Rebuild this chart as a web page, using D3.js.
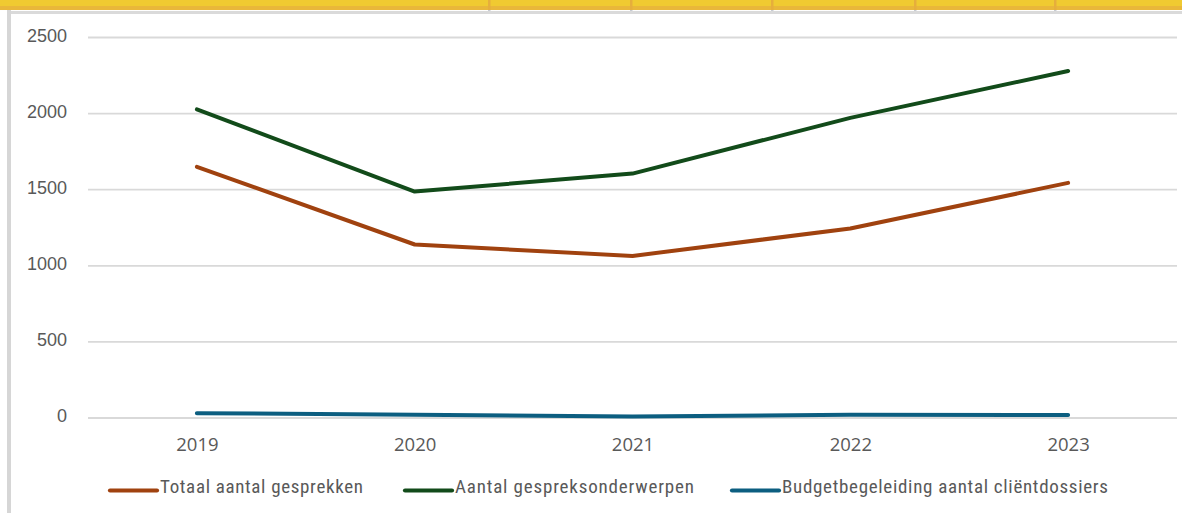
<!DOCTYPE html>
<meta charset="utf-8">
<style>
body{margin:0;background:#fff;}
svg{display:block;font-family:"Liberation Sans",Arial,sans-serif;}
</style>
<body>
<svg id="chart"></svg>
<script src="https://cdnjs.cloudflare.com/ajax/libs/d3/7.8.5/d3.min.js"></script>
<script>

var years = ["2019","2020","2021","2022","2023"];
var totaalGesprekken = [1650,1140,1065,1245,1545];
var gespreksonderwerpen = [2028,1488,1606,1972,2280];
var clientdossiers = [32,22,10,22,20];
var seriesNames = ["Totaal aantal gesprekken","Aantal gespreksonderwerpen","Budgetbegeleiding aantal cliëntdossiers"];
var yTicks = [0,500,1000,1500,2000,2500];
var headerCols = [489,631,772,915,1055];

var W = 1182, H = 513;
var colors = ["#A0420F","#124B1A","#0C5E80"];
var series = [totaalGesprekken,gespreksonderwerpen,clientdossiers];

var svg = d3.select('#chart').attr("width",W).attr("height",H);

// spreadsheet frame round the chart
svg.append("rect").attr("x",0).attr("y",0).attr("width",W).attr("height",7).attr("fill","#F0CA31");
svg.append("rect").attr("x",0).attr("y",6).attr("width",W).attr("height",4).attr("fill","#E9B73A");
svg.selectAll(".hcol").data(headerCols).enter().append("rect")
	.attr("x",d=>d-1).attr("y",0).attr("width",2.5).attr("height",10).attr("fill","#E6AE3C");
svg.selectAll(".hmark").data(headerCols).enter().append("rect")
	.attr("x",d=>d-1).attr("y",10).attr("width",2.5).attr("height",2).attr("fill","#C8CCD4");
svg.append("rect").attr("x",7).attr("y",11).attr("width",W-7).attr("height",3).attr("fill","#DADADA");
svg.append("rect").attr("x",7).attr("y",10).attr("width",4).attr("height",H-10).attr("fill","#D6D6D6");

var x = d3.scalePoint().domain(years).range([88,1177]).padding(0.5);
var y = d3.scaleLinear().domain([0,2500]).range([418,37.5]);

// gridlines
svg.append("g").selectAll("line").data(yTicks).enter().append("line")
	.attr("x1",88).attr("x2",1177)
	.attr("y1",d=>y(d)).attr("y2",d=>y(d))
	.attr("stroke","#D9D9D9").attr("stroke-width",1.8);

var yAxis = svg.append("g").attr("transform","translate(67,0)")
	.call(d3.axisLeft(y).tickValues(yTicks).tickSize(0).tickPadding(0).tickFormat(d3.format("d")));
yAxis.select(".domain").remove();
yAxis.selectAll("text").attr("fill","#595959").style("font-size","18px").attr("dy","3.5px");

var xAxis = svg.append("g").attr("transform","translate(0,450.7)")
	.call(d3.axisBottom(x).tickSize(0).tickPadding(0));
xAxis.select(".domain").remove();
xAxis.selectAll("text").attr("fill","#595959").style("font-size","18.5px").attr("dy","0")
	.style("font-family","'Open Sans','Liberation Sans',sans-serif");

var line = d3.line().x((d,i)=>x(years[i])).y(d=>y(d));

svg.append("g").selectAll("path").data(series).enter().append("path")
	.attr("d",line)
	.attr("fill","none")
	.attr("stroke",(d,i)=>colors[i])
	.attr("stroke-width",4)
	.attr("stroke-linecap","round")
	.attr("stroke-linejoin","round");

// legend
var legendX = [110,405,732];
var legendW = [203,239,326];
var lg = svg.append("g").selectAll("g").data(seriesNames).enter().append("g")
	.attr("transform",(d,i)=>"translate("+legendX[i]+",490.5)");
lg.append("line").attr("x1",0).attr("x2",47).attr("y1",0).attr("y2",0)
	.attr("stroke",(d,i)=>colors[i]).attr("stroke-width",4.2).attr("stroke-linecap","round");
lg.append("text").attr("x",(d,i)=>i==2?50:50).attr("y",2.5)
	.attr("fill","#595959").style("font-size","19px")
	.style("font-family","'Liberation Sans Narrow','Roboto Condensed','Liberation Sans',sans-serif")
	.attr("textLength",(d,i)=>legendW[i]).attr("lengthAdjust","spacing")
	.text(d=>d);
</script>
